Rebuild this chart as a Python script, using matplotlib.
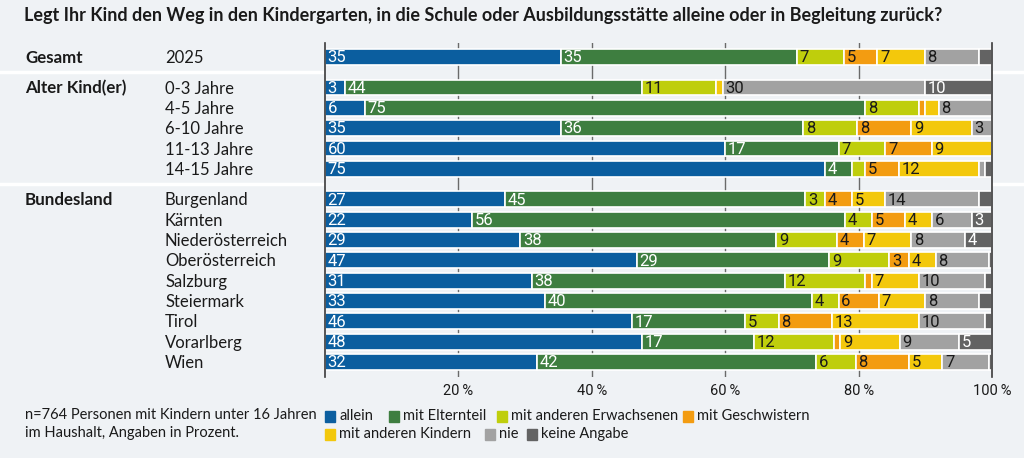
import numpy as np
import matplotlib
matplotlib.use('Agg')
import matplotlib.pyplot as plt
from matplotlib import transforms
from matplotlib.patches import Rectangle
from matplotlib.lines import Line2D

# Daten
kategorien = ['allein', 'mit Elternteil', 'mit anderen Erwachsenen', 'mit Geschwistern',
              'mit anderen Kindern', 'nie', 'keine Angabe']
farben = ['#0b5e9f', '#3e7e40', '#bfce0c', '#f39c11', '#f3c80c', '#a2a2a2', '#636363']
text_farben = ['white', 'white', '#1a1a1a', '#1a1a1a', '#1a1a1a', '#1a1a1a', 'white']

gruppen = ['Gesamt', 'Alter Kind(er)', 'Bundesland']
zeilen = ['2025',
          '0-3 Jahre', '4-5 Jahre', '6-10 Jahre', '11-13 Jahre', '14-15 Jahre',
          'Burgenland', 'Kärnten', 'Niederösterreich', 'Oberösterreich', 'Salzburg',
          'Steiermark', 'Tirol', 'Vorarlberg', 'Wien']
zeilen_gruppe = [0, 1, 1, 1, 1, 1, 2, 2, 2, 2, 2, 2, 2, 2, 2]

allein       = [35, 3, 6, 35, 60, 75, 27, 22, 29, 47, 31, 33, 46, 48, 32]
elternteil   = [35, 44, 75, 36, 17, 4, 45, 56, 38, 29, 38, 40, 17, 17, 42]
erwachsene   = [7, 11, 8, 8, 7, 2, 3, 4, 9, 9, 12, 4, 5, 12, 6]
geschwister  = [5, 0, 1, 8, 7, 5, 4, 5, 4, 3, 1, 6, 8, 1, 8]
kinder       = [7, 1, 2, 9, 9, 12, 5, 4, 7, 4, 7, 7, 13, 9, 5]
nie          = [8, 30, 8, 3, 0, 1, 14, 6, 8, 8, 10, 8, 10, 9, 7]
keine_angabe = [2, 10, 0, 0, 0, 1, 2, 3, 4, 0.5, 1, 2, 1, 5, 0.5]

werte = np.array([allein, elternteil, erwachsene, geschwister, kinder, nie, keine_angabe], dtype=float)
# gerundete Werte: Balken auf 100 % skalieren
anteile = werte / werte.sum(axis=0) * 100

x_ticks = [20, 40, 60, 80, 100]
x_labels = ['20\u2009%', '40\u2009%', '60\u2009%', '80\u2009%', '100\u2009%']

titel = 'Legt Ihr Kind den Weg in den Kindergarten, in die Schule oder Ausbildungsstätte alleine oder in Begleitung zurück?'
fussnote = 'n=764 Personen mit Kindern unter 16 Jahren\nim Haushalt, Angaben in Prozent.'

# Zeilenpositionen: Abstand zwischen den Gruppen
pos = []
y = 0.0
for i, g in enumerate(zeilen_gruppe):
    if i > 0:
        y += 1.5 if g != zeilen_gruppe[i - 1] else 1.0
    pos.append(y)
pos = np.array(pos)

hg = '#eff2f5'
schrift = ['Lato', 'DejaVu Sans']
zahl_schrift = ['Roboto', 'DejaVu Sans']

fig = plt.figure(figsize=(10.24, 4.58), dpi=100, facecolor=hg)
ax = fig.add_axes([325 / 1024, 1 - 377 / 458, 667 / 1024, 334 / 458])
ax.set_facecolor(hg)

for xv in x_ticks[:-1]:
    ax.axvline(xv, color='#6a6a6a', lw=1.0, zorder=0)

links = np.zeros(len(zeilen))
for k in range(len(kategorien)):
    ax.barh(pos, anteile[k], left=links, height=0.78, color=farben[k],
            edgecolor='white', linewidth=1.2, zorder=2)
    for i in range(len(zeilen)):
        if werte[k, i] >= 3:
            ax.text(links[i] + 0.4, pos[i] + 0.04, f'{werte[k, i]:g}', ha='left', va='center',
                    color=text_farben[k], fontsize=12, family=zahl_schrift, zorder=3)
    links += anteile[k]

ax.set_xlim(0, 100)
ax.set_ylim(15.74, -0.69)
ax.set_yticks([])
ax.set_xticks(x_ticks)
ax.set_xticklabels(x_labels, family=zahl_schrift, fontsize=10.5, color='#1a1a1a')
ax.tick_params(axis='x', length=0, pad=5)
for s in ['top', 'bottom']:
    ax.spines[s].set_visible(False)
for s in ['left', 'right']:
    ax.spines[s].set_color('#3a3a3a')
    ax.spines[s].set_linewidth(1.2)

# weiße Trennlinien zwischen den Gruppen
trans = transforms.blended_transform_factory(fig.transFigure, ax.transData)
for i in range(1, len(zeilen)):
    if zeilen_gruppe[i] != zeilen_gruppe[i - 1]:
        yl = (pos[i] + pos[i - 1]) / 2
        fig.add_artist(Line2D([0, 1], [yl, yl], transform=trans, color='white', lw=2.5, zorder=-1))

# Zeilenbeschriftungen
pix = transforms.blended_transform_factory(transforms.IdentityTransform(), ax.transData)
for i, z in enumerate(zeilen):
    ax.text(165, pos[i] + 0.05, z, transform=pix, ha='left', va='center',
            fontsize=12, family=schrift, color='#1a1a1a')
ersten = [zeilen_gruppe.index(g) for g in range(len(gruppen))]
for g, i in zip(gruppen, ersten):
    ax.text(25, pos[i] + 0.05, g, transform=pix, ha='left', va='center',
            fontsize=12.2, family=schrift, fontweight='bold', color='#1a1a1a')

fig.text(24 / 1024, 1 - 16 / 458, titel, ha='left', va='center', fontsize=13,
         fontweight='bold', family=schrift, color='#1a1a1a')
fig.text(25 / 1024, 1 - 424 / 458, fussnote, ha='left', va='center', fontsize=10.5,
         family=schrift, color='#1a1a1a', linespacing=1.35)

# Legende
leg_x = [325, 389, 497, 683, 325, 485, 527]
leg_y = [416, 416, 416, 416, 434, 434, 434]
for k in range(len(kategorien)):
    fig.add_artist(Rectangle(((leg_x[k]) / 1024, 1 - (leg_y[k] + 5.5) / 458), 10 / 1024, 11 / 458,
                             transform=fig.transFigure, color=farben[k]))
    fig.text((leg_x[k] + 14) / 1024, 1 - leg_y[k] / 458, kategorien[k], ha='left', va='center',
             fontsize=10.5, family=schrift, color='#1a1a1a')

fig.savefig('out.png', dpi=100, facecolor=hg)
